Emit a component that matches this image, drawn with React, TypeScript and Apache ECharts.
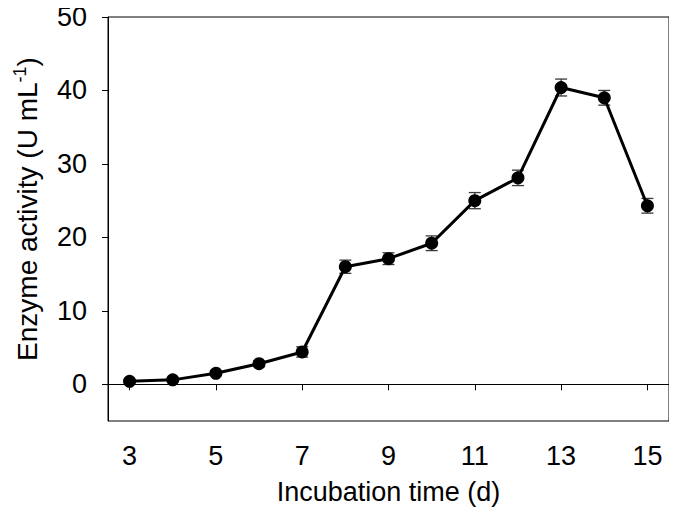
import React, { useEffect, useRef } from "react";
import * as echarts from "echarts";

const days = [3, 4, 5, 6, 7, 8, 9, 10, 11, 12, 13, 14, 15];
const activity = [0.4, 0.6, 1.5, 2.8, 4.4, 16.0, 17.1, 19.2, 25.0, 28.1, 40.4, 39.0, 24.3];
const errors = [0.2, 0.2, 0.3, 0.4, 0.7, 0.9, 0.8, 1.0, 1.1, 1.05, 1.15, 1.0, 1.0];
const xTicks = [3, 5, 7, 9, 11, 13, 15];
const yTicks = [0, 10, 20, 30, 40, 50];

const FONT = "Liberation Sans, Arial, sans-serif";

export default function App() {
  const ref = useRef<HTMLDivElement>(null);
  useEffect(() => {
    if (!ref.current) return;
    const chart = echarts.init(ref.current, undefined, { renderer: "svg" });
    const points = days.map((d, i) => [d, activity[i]]);
    const errData = days.map((d, i) => [d, activity[i] - errors[i], activity[i] + errors[i]]);
    chart.setOption({
      animation: false,
      backgroundColor: "#fff",
      grid: {
        left: 108,
        right: 8,
        top: 17,
        bottom: 105,
        show: true,
        borderColor: "#000",
        borderWidth: 1,
        containLabel: false,
      },
      xAxis: {
        type: "value",
        min: 2.5,
        max: 15.5,
        name: "Incubation time (d)",
        nameLocation: "middle",
        nameGap: 57,
        nameTextStyle: { fontFamily: FONT, fontSize: 27, color: "#000" },
        axisLine: { show: true, lineStyle: { color: "#000", width: 1 } },
        axisTick: { show: true, inside: false, length: 6, customValues: xTicks, lineStyle: { color: "#000" } },
        axisLabel: { customValues: xTicks, margin: 21, fontFamily: FONT, fontSize: 27, color: "#000" },
        splitLine: { show: false },
      },
      yAxis: {
        type: "value",
        min: -5,
        max: 50,
        axisLine: { show: true, lineStyle: { color: "#000", width: 1 } },
        axisTick: { show: true, inside: false, length: 6, customValues: yTicks, lineStyle: { color: "#000" } },
        axisLabel: { customValues: yTicks, margin: 21, fontFamily: FONT, fontSize: 27, color: "#000" },
        splitLine: { show: false },
      },
      graphic: [
        {
          type: "text",
          x: 27,
          y: 209,
          rotation: Math.PI / 2,
          style: {
            text: "{a|Enzyme activity (U mL}{s|-1}{a|)}",
            align: "center",
            verticalAlign: "middle",
            fill: "#000",
            rich: {
              a: { fontFamily: FONT, fontSize: 28, lineHeight: 32, fill: "#000", color: "#000" },
              s: { fontFamily: FONT, fontSize: 18, lineHeight: 32, verticalAlign: "top", fill: "#000", color: "#000" },
            },
          },
        },
      ],
      series: [
        {
          type: "custom",
          z: 1,
          data: errData,
          renderItem: (params: any, api: any) => {
            const x = api.value(0);
            const lo = api.coord([x, api.value(1)]);
            const hi = api.coord([x, api.value(2)]);
            const w = 6;
            const style = { stroke: "#3a3a3a", lineWidth: 1.3 };
            return {
              type: "group",
              children: [
                { type: "line", shape: { x1: lo[0], y1: lo[1], x2: hi[0], y2: hi[1] }, style },
                { type: "line", shape: { x1: lo[0] - w, y1: lo[1], x2: lo[0] + w, y2: lo[1] }, style },
                { type: "line", shape: { x1: hi[0] - w, y1: hi[1], x2: hi[0] + w, y2: hi[1] }, style },
              ],
            };
          },
        },
        {
          type: "line",
          z: 2,
          data: points,
          symbol: "circle",
          symbolSize: 13,
          itemStyle: { color: "#000" },
          lineStyle: { color: "#000", width: 3 },
        },
      ],
    });
    return () => chart.dispose();
  }, []);
  return <div ref={ref} style={{ width: 677, height: 526, margin: -8 }} />;
}
